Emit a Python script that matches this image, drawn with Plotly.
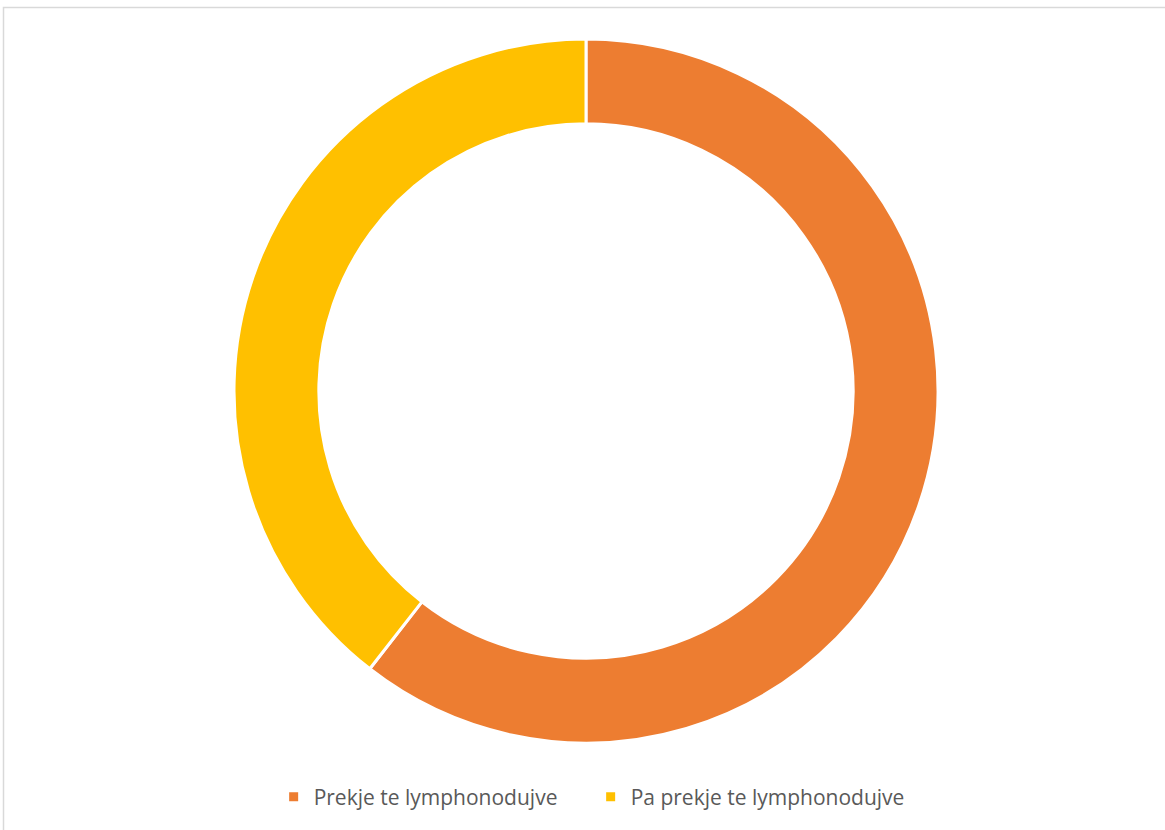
import plotly.graph_objects as go

# Data
labels = ["Prekje te lymphonodujve", "Pa prekje te lymphonodujve"]
values = [23, 15]
colors = ["#ED7D31", "#FFC000"]

W, H = 1165, 830
cx, cy, r = 586, 391, 352

fig = go.Figure(go.Pie(
    labels=labels,
    values=values,
    hole=0.759,
    sort=False,
    direction="clockwise",
    rotation=0,
    textinfo="none",
    marker=dict(colors=colors, line=dict(color="white", width=3)),
    domain=dict(x=[(cx - r) / W, (cx + r) / W], y=[1 - (cy + r) / H, 1 - (cy - r) / H]),
))

fig.update_layout(
    width=W, height=H,
    margin=dict(l=0, r=0, t=0, b=0),
    paper_bgcolor="white",
    font=dict(family="Open Sans, Noto Sans, sans-serif", color="#595959", size=21),
    legend=dict(orientation="h", x=0.507, xanchor="center", y=1 - 797 / H, yanchor="middle",
                font=dict(size=21, color="#595959"), itemwidth=30,
                entrywidth=272, entrywidthmode="pixels"),
    shapes=[dict(type="rect", xref="paper", yref="paper",
                 x0=3.5 / W, x1=1.02, y0=-0.02, y1=1 - 7.5 / H,
                 line=dict(color="#D9D9D9", width=1.5))],
)

# page body has a default 8px margin; drop it so the figure sits at 0,0
fig.write_html("out.html", config={"displayModeBar": False},
               post_script="document.body.style.margin='0';")
